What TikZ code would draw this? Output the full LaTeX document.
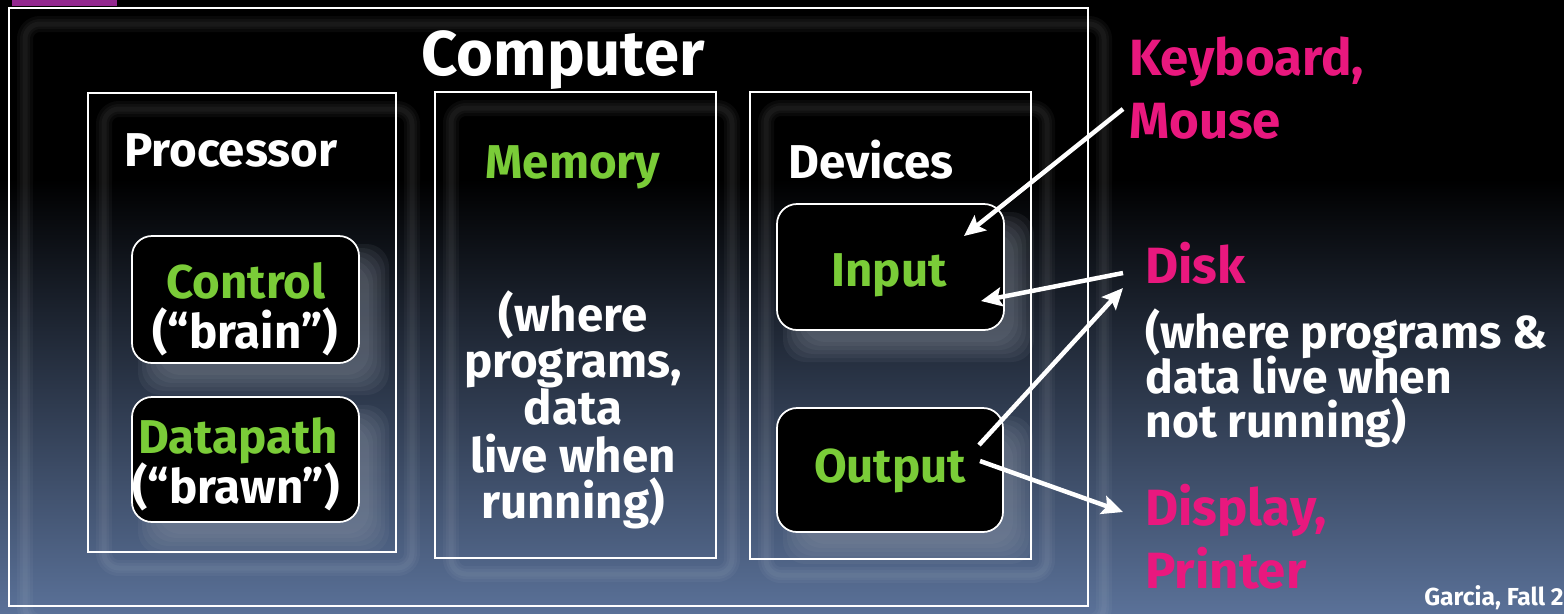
\documentclass[tikz,border=0pt]{standalone}
\usepackage{fontspec}
\setmainfont{Fira Sans}
\usetikzlibrary{arrows.meta}
\definecolor{bgbot}{RGB}{90,113,152}
\definecolor{lgreen}{RGB}{122,204,56}
\definecolor{hpink}{RGB}{233,24,126}
\definecolor{barcol}{RGB}{147,40,143}
\definecolor{shadowcol}{RGB}{150,158,172}
\pgfdeclarelayer{bglayer}
\pgfdeclarelayer{shadowlayer}
\pgfsetlayers{bglayer,shadowlayer,main}
\begin{document}
\begin{tikzpicture}[x=0.02cm,y=-0.02cm,
  wh/.style 2 args={minimum width=#1*0.02cm, minimum height=#2*0.02cm},
  frame/.style={draw=white, line width=0.035cm, inner sep=0pt, outer sep=0pt},
  rbox/.style={frame, fill=black, rounded corners=0.4cm},
  glowline/.style={draw=white, draw opacity=0.035, line width=#1*0.02cm, rounded corners=0.3cm},
  big/.style={font=\fontsize{36}{40}\selectfont\bfseries, text=white, inner sep=0pt},
  head/.style={font=\fontsize{27}{30}\selectfont\bfseries, inner sep=0pt},
  body/.style={font=\fontsize{27}{30}\selectfont\bfseries, text=white, inner sep=0pt},
  sidebody/.style={font=\fontsize{26.3}{30}\selectfont\bfseries, text=white, inner sep=0pt},
  pinktext/.style={font=\fontsize{29}{32}\selectfont\bfseries, text=hpink, inner sep=0pt},
  arr/.style={draw=white, line width=0.09cm, -{Stealth[length=0.42cm,width=0.38cm,inset=0.08cm]}}
]
\clip (0,0) rectangle (1564,613);
\begin{pgfonlayer}{bglayer}
  \fill[black] (0,0) rectangle (1564,180);
  \shade[top color=black, bottom color=bgbot] (0,179) rectangle (1564,613);
  \fill[barcol] (12,0) rectangle (117,6);
\end{pgfonlayer}

% frames
\node[frame, wh={1079}{598}] (comp) at (548.5,307) {};
\node[frame, wh={308}{459}] (proc) at (242,322.5) {};
\node[frame, wh={281}{466}] (mem) at (575.5,325) {};
\node[frame, wh={281}{467}] (dev) at (890.5,325.5) {};

% rounded filled boxes
\node[rbox, wh={227}{127}] (ctrl) at (245.5,299.5) {};
\node[rbox, wh={227}{125}] (dp) at (245.5,459.5) {};
\node[rbox, wh={227}{126}] (inp) at (890.5,267) {};
\node[rbox, wh={226}{124}] (outp) at (890,470) {};

% shadows
\begin{pgfonlayer}{shadowlayer}
  \foreach \n in {comp,proc,mem,dev}{
    \foreach \w in {16,10,5}{
      \draw[glowline=\w] ([shift={(16,16)}]\n.north west) rectangle ([shift={(16,16)}]\n.south east);
    }
  }
  \foreach \n in {ctrl,dp,inp,outp}{
    \foreach \k in {0,...,5}{
      \fill[shadowcol, fill opacity=0.085, rounded corners=0.45cm]
        ([shift={(6+4*\k,8+4*\k)}]\n.north west) rectangle ([shift={(30-4*\k,32-4*\k)}]\n.south east);
    }
  }
\end{pgfonlayer}

% titles
\node[big, anchor=base] (tcomp) at (563,75) {Computer};
\node[head, text=white, anchor=base west] (tproc) at (124,166) {Processor};
\node[head, text=lgreen, anchor=base] (tmem) at (573,178) {Memory};
\node[head, text=white, anchor=base] (tdev) at (871,178) {Devices};

% processor parts
\node[head, text=lgreen, anchor=base] (tctrl) at (246,298) {Control};
\node[body, anchor=base] (tbrain) at (245,348) {(“brain”)};
\node[head, text=lgreen, anchor=base] (tdp) at (238,453) {Datapath};
\node[body, anchor=base] (tbrawn) at (236,503) {(“brawn”)};

% memory text
\node[body, anchor=base] (m1) at (573,331) {(where};
\node[body, anchor=base] (m2) at (573,377) {programs,};
\node[body, anchor=base] (m3) at (573,424) {data};
\node[body, anchor=base] (m4) at (573,472) {live when};
\node[body, anchor=base] (m5) at (573,518) {running)};

% devices
\node[head, text=lgreen, anchor=base] (tinp) at (889,286) {Input};
\node[head, text=lgreen, anchor=base] (toutp) at (890,482) {Output};

% right labels
\node[pinktext, anchor=base west] (kb) at (1129,75) {Keyboard,};
\node[pinktext, anchor=base west] (mouse) at (1129,138) {Mouse};
\node[pinktext, anchor=base west] (disk) at (1145,283) {Disk};
\node[sidebody, anchor=base west] (d1) at (1145,348) {(where programs \&};
\node[sidebody, anchor=base west] (d2) at (1145,393) {data live when};
\node[sidebody, anchor=base west] (d3) at (1145,437) {not running)};
\node[pinktext, anchor=base west] (disp) at (1145,525) {Display,};
\node[pinktext, anchor=base west] (prn) at (1145,588) {Printer};
\node[font=\fontsize{14}{16}\selectfont\bfseries, text=white, inner sep=0pt, anchor=base west] (garcia) at (1424,605) {Garcia, Fall 2};

% arrows
\coordinate (kbEnd) at (1123,109);
\coordinate (inTipA) at (964,236);
\coordinate (diskEndA) at (1123,273);
\coordinate (inTipB) at (981,301);
\coordinate (outStartA) at (979,445);
\coordinate (diskTip) at (1123,288);
\coordinate (outStartB) at (980,461);
\coordinate (dispTip) at (1123,512);
\draw[arr] (kbEnd) -- (inTipA);
\draw[arr] (diskEndA) -- (inTipB);
\draw[arr] (outStartA) -- (diskTip);
\draw[arr] (outStartB) -- (dispTip);
\end{tikzpicture}
\end{document}
